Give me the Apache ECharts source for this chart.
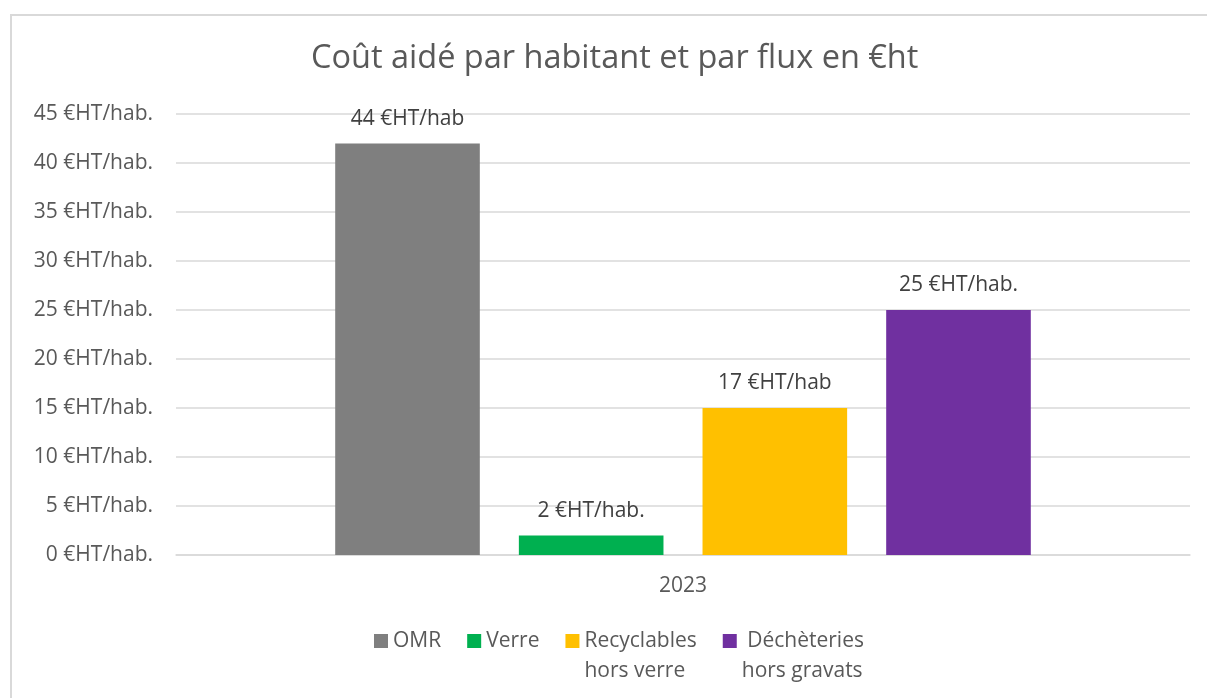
<!DOCTYPE html>
<html>
<head>
<meta charset="utf-8">
<script src="https://cdn.jsdelivr.net/npm/echarts@6/dist/echarts.min.js"></script>
<style>
  html, body { margin: 0; padding: 0; background: #fff; }
  #frame { position: absolute; left: 10px; top: 14px; width: 1300px; height: 800px;
           border-top: 2px solid #d9d9d9; border-left: 2px solid #d9d9d9; box-sizing: border-box; }
  #chart { position: absolute; left: 0; top: 0; width: 1207px; height: 698px; }
</style>
</head>
<body>
<div id="frame"></div>
<div id="chart"></div>
<script>
const categories = ['2023'];
const seriesNames = ['OMR', 'Verre', 'Recyclables', 'Déchèteries'];
const legendTexts = ['OMR\n ', 'Verre\n ', 'Recyclables\nhors verre', ' Déchèteries\nhors gravats'];
const seriesValues = [42, 2, 15, 25];
const labelTexts = ['44 €HT/hab', '2 €HT/hab.', '17 €HT/hab', '25 €HT/hab.'];
const colors = ['#7f7f7f', '#00b050', '#ffc000', '#7030a0'];
const yTicks = { min: 0, max: 45, interval: 5, suffix: ' €HT/hab.' };

const FONT = 'Open Sans';
const FS = 21;
const chart = echarts.init(document.getElementById('chart'), null, { renderer: 'canvas' });

const series = seriesNames.map((name, i) => ({
  name: name,
  type: 'bar',
  data: [seriesValues[i]],
  itemStyle: { color: colors[i] },
  barGap: '27%',
  barCategoryGap: '31.4%',
  label: {
    show: true,
    position: 'top',
    distance: 14,
    color: '#404040',
    fontFamily: FONT,
    fontSize: FS,
    formatter: () => labelTexts[i]
  }
}));

chart.setOption({
  animation: false,
  backgroundColor: 'transparent',
  title: {
    text: 'Coût aidé par habitant et par flux en €ht',
    left: 306,
    top: 37,
    textStyle: { color: '#595959', fontFamily: FONT, fontSize: 32.5, fontWeight: 'normal' }
  },
  legend: {
    left: 374,
    top: 626,
    padding: 0,
    itemGap: 26,
    itemWidth: 14,
    itemHeight: 44,
    icon: 'path://M0,0L14,0L14,14L0,14Z M0,44L0.01,44L0.01,44.01Z',
    selectedMode: false,
    formatter: name => legendTexts[seriesNames.indexOf(name)],
    textStyle: { color: '#595959', fontFamily: FONT, fontSize: FS, lineHeight: 30 },
    data: seriesNames
  },
  grid: { left: 176, right: 17, top: 114, bottom: 143, containLabel: false },
  xAxis: {
    type: 'category',
    data: categories,
    axisLine: { lineStyle: { color: '#d9d9d9', width: 1.5 } },
    axisTick: { show: false },
    axisLabel: { color: '#595959', fontFamily: FONT, fontSize: FS, margin: 21 }
  },
  yAxis: {
    type: 'value',
    min: yTicks.min,
    max: yTicks.max,
    interval: yTicks.interval,
    axisLine: { show: false },
    axisTick: { show: false },
    splitLine: { lineStyle: { color: '#d9d9d9', width: 1.5 } },
    axisLabel: {
      color: '#595959', fontFamily: FONT, fontSize: FS, margin: 23,
      formatter: v => v + yTicks.suffix
    }
  },
  series: series
});
</script>
</body>
</html>
